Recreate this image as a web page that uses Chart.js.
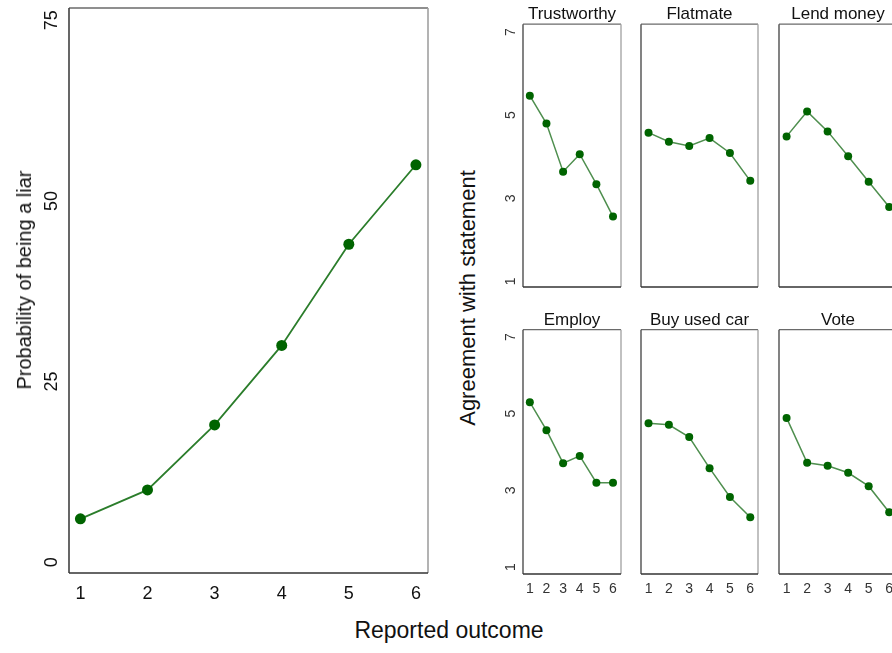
<!DOCTYPE html>
<html><head><meta charset="utf-8">
<script src="https://cdn.jsdelivr.net/npm/chart.js@4/dist/chart.umd.min.js"></script>
<style>
html,body{margin:0;padding:0;width:892px;height:653px;overflow:hidden;background:#fff;}
#wrap{position:relative;width:892px;height:653px;overflow:hidden;font-family:"Liberation Sans",Arial,sans-serif;}
canvas{position:absolute;}
.t{position:absolute;white-space:nowrap;color:#111;line-height:1;transform-origin:center center;}
</style></head><body>
<div id="wrap">
<canvas id="cLeft" width="440" height="610" style="left:0;top:0"></canvas>
<canvas id="p1" width="134" height="290" style="left:488px;top:0"></canvas>
<canvas id="p2" width="119" height="290" style="left:640px;top:0"></canvas>
<canvas id="p3" width="120" height="290" style="left:778px;top:0"></canvas>
<canvas id="p4" width="134" height="300" style="left:488px;top:305px"></canvas>
<canvas id="p5" width="119" height="300" style="left:640px;top:305px"></canvas>
<canvas id="p6" width="120" height="300" style="left:778px;top:305px"></canvas>
<div class="t" style="left:24px;top:280px;font-size:20px;transform:translate(-50%,-50%) rotate(-90deg)">Probability of being a liar</div>
<div class="t" style="left:468px;top:298px;font-size:22px;transform:translate(-50%,-50%) rotate(-90deg)">Agreement with statement</div>
<div class="t" style="left:449px;top:630px;font-size:23px;transform:translate(-50%,-50%)">Reported outcome</div>
</div>
<script>
// ---- data ----
const outcomes = [1, 2, 3, 4, 5, 6];
const liarProb = [6, 10, 19, 30, 44, 55];
const leftYTicks = [0, 25, 50, 75];
const agreeTicks = [1, 3, 5, 7];
const panelTitles = ["Trustworthy", "Flatmate", "Lend money", "Employ", "Buy used car", "Vote"];
const trustworthy = [5.47, 4.80, 3.64, 4.06, 3.34, 2.56];
const flatmate    = [4.58, 4.36, 4.26, 4.45, 4.09, 3.42];
const lendMoney   = [4.49, 5.09, 4.61, 4.01, 3.40, 2.79];
const employ      = [5.30, 4.57, 3.71, 3.90, 3.20, 3.20];
const buyUsedCar  = [4.75, 4.71, 4.39, 3.58, 2.83, 2.30];
const vote        = [4.89, 3.72, 3.64, 3.46, 3.11, 2.43];

const FONT = '"Liberation Sans", Arial, sans-serif';
Chart.defaults.font.family = FONT;

const boxPlugin = {
  id: 'box',
  afterDraw(chart, args, o) {
    const {ctx, chartArea: a} = chart;
    const w = o.w || 1.3;
    ctx.save();
    ctx.lineWidth = w;
    const L = a.left, R = a.right, T = a.top, B = a.bottom;
    const seg = (x1, y1, x2, y2, c) => { ctx.strokeStyle = c; ctx.beginPath(); ctx.moveTo(x1, y1); ctx.lineTo(x2, y2); ctx.stroke(); };
    seg(L, T, R, T, '#6a6a6a');
    seg(R, T, R, B, '#a0a0a0');
    seg(L, T, L, B, '#404040');
    seg(L, B, R, B, '#333333');
    ctx.restore();
  }
};

const pts = ys => outcomes.map((x, i) => ({x: x, y: ys[i]}));

// ---- left chart ----
new Chart(document.getElementById('cLeft'), {
  type: 'line',
  data: {datasets: [{
    data: pts(liarProb),
    borderColor: '#2b7d2b', borderWidth: 1.8,
    pointBackgroundColor: '#006400', pointBorderColor: '#006400',
    pointRadius: 5.5, pointBorderWidth: 0, tension: 0
  }]},
  options: {
    responsive: false, animation: false, events: [],
    layout: {autoPadding: false, padding: {top: 8, right: 12, left: 0, bottom: 0}},
    plugins: {legend: {display: false}, tooltip: {enabled: false}, box: {w: 1.6}},
    scales: {
      x: {
        type: 'linear', min: 0.83, max: 6.18,
        grid: {display: false}, border: {display: false},
        afterBuildTicks: s => { s.ticks = outcomes.map(v => ({value: v})); },
        afterFit: s => { s.height = 37; s.paddingLeft = 0; s.paddingRight = 0; },
        ticks: {font: {size: 18}, color: '#111', padding: 2, maxRotation: 0, autoSkip: false}
      },
      y: {
        type: 'linear', min: -1.5, max: 76.7,
        grid: {display: false}, border: {display: false},
        afterBuildTicks: s => { s.ticks = leftYTicks.map(v => ({value: v})); },
        afterFit: s => { s.width = 69; s.paddingTop = 0; s.paddingBottom = 0; },
        ticks: {font: {size: 18}, color: '#111', padding: -1, minRotation: 90, maxRotation: 90, crossAlign: 'center', autoSkip: false}
      }
    }
  },
  plugins: [boxPlugin]
});

// ---- small panels ----
function panel(id, title, ys, cfg) {
  const top = cfg.row === 0;
  const showX = !top, showY = cfg.yaxis;
  new Chart(document.getElementById(id), {
    type: 'line',
    data: {datasets: [{
      data: pts(ys),
      borderColor: '#4f8f4f', borderWidth: 1.5,
      pointBackgroundColor: '#006400', pointBorderColor: '#006400',
      pointRadius: 4, pointBorderWidth: 0, tension: 0
    }]},
    options: {
      responsive: false, animation: false, events: [],
      layout: {autoPadding: false, padding: {top: 0, right: 1, left: showY ? 0 : 1, bottom: top ? 3 : 0}},
      plugins: {
        legend: {display: false}, tooltip: {enabled: false}, box: {w: 1.3},
        title: {
          display: true, text: title, fullSize: false, color: '#111',
          font: {size: 17, weight: 'normal', lineHeight: 1.1},
          padding: top ? {top: 4.5, bottom: 1} : {top: 6, bottom: 0}
        }
      },
      scales: {
        x: {
          type: 'linear', min: cfg.xmin, max: cfg.xmax, display: showX,
          grid: {display: false}, border: {display: false},
          afterBuildTicks: s => { s.ticks = outcomes.map(v => ({value: v})); },
          afterFit: s => { if (showX) s.height = 31; s.paddingLeft = 0; s.paddingRight = 0; },
          ticks: {font: {size: 14}, color: '#333', padding: -1, maxRotation: 0, autoSkip: false}
        },
        y: {
          type: 'linear', min: top ? 0.865 : 0.82, max: 7.19, display: showY,
          grid: {display: false}, border: {display: false},
          afterBuildTicks: s => { s.ticks = agreeTicks.map(v => ({value: v})); },
          afterFit: s => { if (showY) s.width = 35; s.paddingTop = 0; s.paddingBottom = 0; },
          ticks: {font: {size: 14}, color: '#333', padding: 0, minRotation: 90, maxRotation: 90, crossAlign: 'center', autoSkip: false}
        }
      }
    },
    plugins: [boxPlugin]
  });
}
const narrow = {xmin: 0.59, xmax: 6.48};
const wide = {xmin: 0.63, xmax: 6.38};
panel('p1', panelTitles[0], trustworthy, Object.assign({row: 0, yaxis: true}, narrow));
panel('p2', panelTitles[1], flatmate,    Object.assign({row: 0, yaxis: false}, wide));
panel('p3', panelTitles[2], lendMoney,   Object.assign({row: 0, yaxis: false}, wide));
panel('p4', panelTitles[3], employ,      Object.assign({row: 1, yaxis: true}, narrow));
panel('p5', panelTitles[4], buyUsedCar,  Object.assign({row: 1, yaxis: false}, wide));
panel('p6', panelTitles[5], vote,        Object.assign({row: 1, yaxis: false}, wide));
</script>
</body></html>
